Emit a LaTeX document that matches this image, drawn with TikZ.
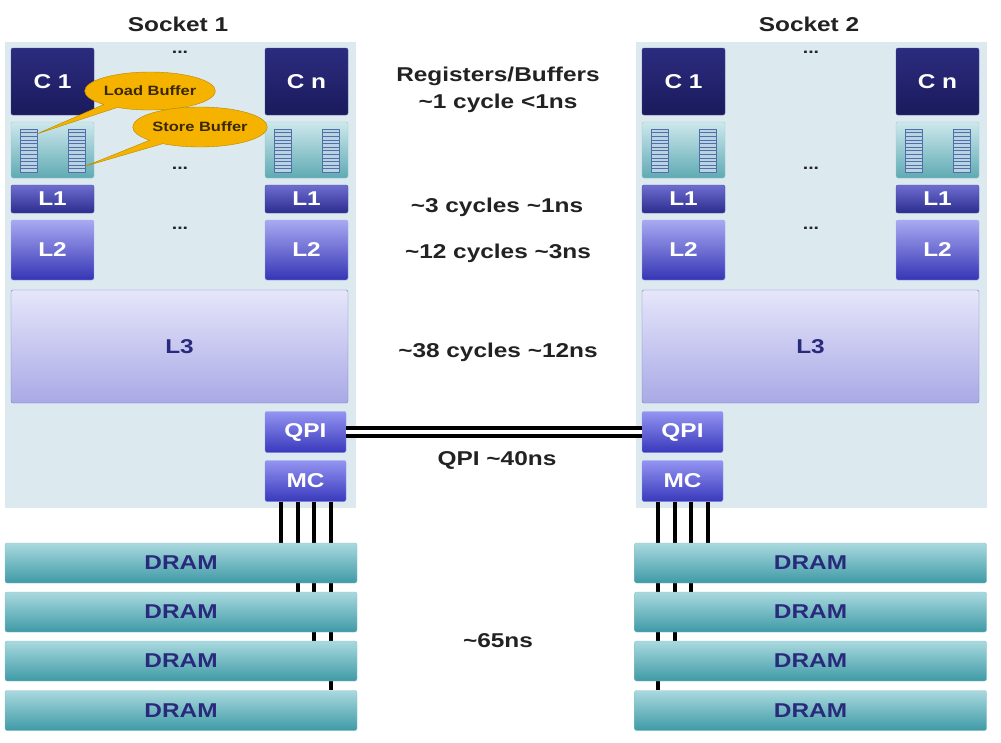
\documentclass[tikz,border=0pt]{standalone}
\usepackage{fontspec}
\setmainfont[FakeStretch=1.22]{Liberation Sans}
\usetikzlibrary{shapes.callouts}
\pgfdeclarelayer{base}
\pgfdeclarelayer{under}
\pgfsetlayers{base,under,main}
\definecolor{sockbg}{HTML}{DCEAF0}
\definecolor{coretop}{HTML}{2C2C80}
\definecolor{corebot}{HTML}{1A1A5C}
\definecolor{coreline}{HTML}{4A4AA0}
\definecolor{buftop}{HTML}{CDE8EC}
\definecolor{bufbot}{HTML}{5FAAB3}
\definecolor{bufline}{HTML}{9CCAD0}
\definecolor{stkfill}{HTML}{B9D3E2}
\definecolor{stkline}{HTML}{4E6FA8}
\definecolor{lonetop}{HTML}{6E6ED0}
\definecolor{lonebot}{HTML}{2C2C8E}
\definecolor{ltwotop}{HTML}{A9A9F2}
\definecolor{ltwobot}{HTML}{3535B5}
\definecolor{lthreetop}{HTML}{E6E6FB}
\definecolor{lthreebot}{HTML}{A9A9E6}
\definecolor{lthreeline}{HTML}{7A7AC0}
\definecolor{linktop}{HTML}{9494F2}
\definecolor{linkbot}{HTML}{3838BC}
\definecolor{dramtop}{HTML}{AAD9DF}
\definecolor{drambot}{HTML}{3E9AA6}
\definecolor{dramline}{HTML}{8CC4CC}
\definecolor{calfill}{HTML}{F5B300}
\definecolor{calline}{HTML}{B98600}
\definecolor{caltext}{HTML}{3A2800}
\definecolor{labtext}{HTML}{2A2A7C}
\definecolor{lattext}{HTML}{222222}
\newcommand{\fsz}[1]{\fontsize{#1}{#1}\selectfont\bfseries}
\begin{document}
\begin{tikzpicture}[x=1pt, y=-1pt, line join=round, line cap=round,
  box/.style={rounded corners=2pt, inner sep=0pt, font=\fsz{20}, text=white},
  core/.style={box, draw=coreline, top color=coretop, bottom color=corebot, minimum width=83pt, minimum height=67pt},
  bufp/.style={box, draw=bufline, top color=buftop, bottom color=bufbot, minimum width=83pt, minimum height=56pt},
  stk/.style={draw=stkline, fill=stkfill, minimum width=17pt, minimum height=43pt, inner sep=0pt,
    path picture={\foreach \k in {1,...,11} \draw[stkline, line width=0.6pt]
      ([yshift=-\k*3.6pt]path picture bounding box.north west) -- ([yshift=-\k*3.6pt]path picture bounding box.north east);}},
  lone/.style={box, draw=coreline, top color=lonetop, bottom color=lonebot, minimum width=83pt, minimum height=28pt},
  ltwo/.style={box, draw=ltwotop, top color=ltwotop, bottom color=ltwobot, minimum width=83pt, minimum height=60pt},
  lthree/.style={box, draw=lthreeline, top color=lthreetop, bottom color=lthreebot, text=labtext, minimum width=337pt, minimum height=113pt},
  link/.style={box, draw=linktop, top color=linktop, bottom color=linkbot, minimum width=81pt, minimum height=41pt},
  dram/.style={box, draw=dramline, top color=dramtop, bottom color=drambot, text=labtext, minimum width=352pt, minimum height=40pt},
  wire/.style={line width=4pt, line cap=butt, black},
  qpilink/.style={line width=4.5pt, double=white, double distance=3.5pt, line cap=butt},
  tip/.style={ellipse callout, draw=calline, fill=calfill, text=caltext, font=\fsz{13.5}, inner sep=0pt, minimum width=128pt, minimum height=38pt},
  lat/.style={anchor=base, font=\fsz{20}, text=lattext},
  dots/.style={font=\fsz{16}, text=lattext}]
\begin{pgfonlayer}{base}
\fill[white] (0,0) rectangle (1001,742);
\end{pgfonlayer}
\useasboundingbox (0,0) rectangle (1001,742);
\foreach \s/\o in {1/0,2/631} {
  \begin{pgfonlayer}{base}
  \fill[sockbg] (5+\o,42) rectangle (356+\o,508);
  \end{pgfonlayer}
  \node[lat] (sock\s) at (178+\o,31) {Socket \s};
  \node[core] (ca-\s) at (52.5+\o,81.5) {C 1};
  \node[core] (cb-\s) at (306.5+\o,81.5) {C n};
  \node[bufp] (pa-\s) at (52.5+\o,150) {};
  \node[bufp] (pb-\s) at (306.5+\o,150) {};
  \foreach \p in {pa,pb}
    \foreach \d/\side in {-24/l,24/r}
      \node[stk] (\p-\s-\side) at ([xshift=\d pt, yshift=-0.5pt]\p-\s.center) {};
  \node[lone] (l1a-\s) at (52.5+\o,199) {L1};
  \node[lone] (l1b-\s) at (306.5+\o,199) {L1};
  \node[ltwo] (l2a-\s) at (52.5+\o,250) {L2};
  \node[ltwo] (l2b-\s) at (306.5+\o,250) {L2};
  \node[lthree] (l3-\s) at (179.5+\o,346.5) {L3};
  \foreach \y in {52,168,228}
    \node[dots] (d\y-\s) at (180+\o,\y) {...};
}
\node[link] (qpi1) at (305.5,432) {QPI};
\node[link] (qpi2) at (682.5,432) {QPI};
\node[link] (mc1) at (305.5,481) {MC};
\node[link] (mc2) at (682.5,481) {MC};
\draw[qpilink] (qpi1) -- (qpi2);
\foreach \s/\o in {1/0,2/629.5}
  \foreach \k/\y in {1/563,2/612,3/661,4/710.5}
    \node[dram] (dram\s-\k) at (181+\o,\y) {DRAM};
\begin{pgfonlayer}{under}
\foreach \i/\j in {1/4,2/3,3/2,4/1} {
  \draw[wire] ([xshift=16.5*\i pt]mc1.south west) -- ([xshift=16.5*\i pt]mc1.south west |- dram1-\i.north);
  \draw[wire] ([xshift=16.5*\i pt]mc2.south west) -- ([xshift=16.5*\i pt]mc2.south west |- dram2-\j.north);
}
\end{pgfonlayer}
\node[tip, callout absolute pointer={([yshift=-5pt]pa-1-l.north east)}] (ldbuf) at (150,91) {Load Buffer};
\node[tip, callout absolute pointer={([yshift=6pt]pa-1-r.south east)}, minimum width=130pt, minimum height=40pt] (stbuf) at (200,127) {Store Buffer};
\node[lat] (regs) at (498,81) {Registers/Buffers};
\node[lat] (tone) at (498,108) {\textasciitilde1 cycle <1ns};
\node[lat] (ttwo) at (497,212) {\textasciitilde3 cycles \textasciitilde1ns};
\node[lat] (tthree) at (498,258) {\textasciitilde12 cycles \textasciitilde3ns};
\node[lat] (tfour) at (498,357) {\textasciitilde38 cycles \textasciitilde12ns};
\node[lat] (tqpi) at (497,465) {QPI \textasciitilde40ns};
\node[lat] (tmem) at (498,647) {\textasciitilde65ns};
\end{tikzpicture}
\end{document}
